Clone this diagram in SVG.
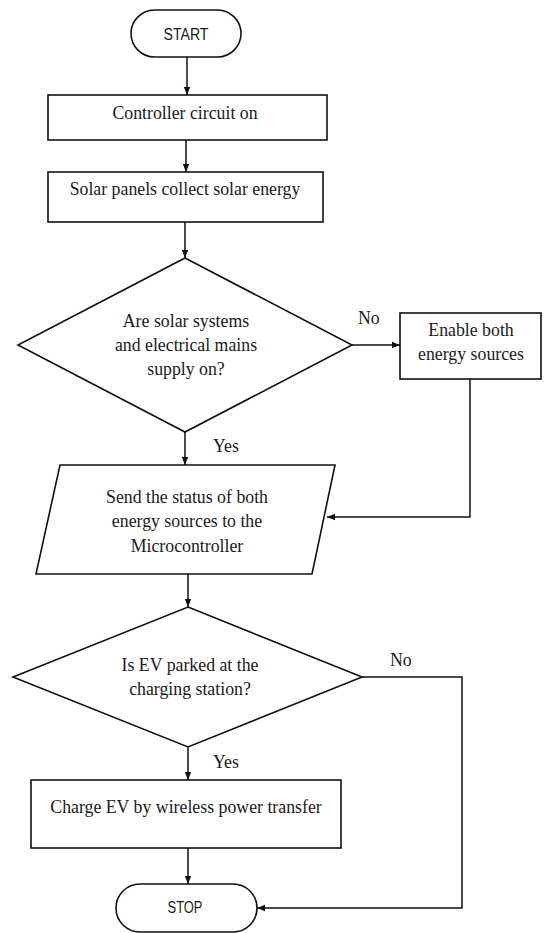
<svg xmlns="http://www.w3.org/2000/svg" width="546" height="933" viewBox="0 0 546 933">
<defs>
<marker id="ah" viewBox="0 0 8 8" refX="8" refY="4" markerWidth="8" markerHeight="8" markerUnits="userSpaceOnUse" orient="auto">
<path d="M0,0.8 L8,4 L0,7.2 Z" fill="#111"/>
</marker>
<style>
.s{fill:#fff;stroke:#111;stroke-width:1.6}
.c{fill:none;stroke:#111;stroke-width:1.5}
.a{marker-end:url(#ah)}
.t{font-family:"Liberation Serif","Times New Roman",serif;font-size:17.8px;fill:#1a1a1a;text-anchor:middle}
.l{font-family:"Liberation Serif","Times New Roman",serif;font-size:17.8px;fill:#1a1a1a}
.k{font-family:"Liberation Sans",Arial,sans-serif;font-size:16px;fill:#1a1a1a;text-anchor:middle}
</style>
</defs>
<rect width="546" height="933" fill="#fff"/>
<g id="connectors">
<path class="c a" d="M187,57 V95"/>
<path class="c a" d="M186,140 V172"/>
<path class="c a" d="M185,222 V258"/>
<path class="c a" d="M352,345 H400"/>
<path class="c a" d="M185,432 V465"/>
<path class="c a" d="M470,379 V517 H327"/>
<path class="c a" d="M188,574 V607"/>
<path class="c a" d="M188,747 V780"/>
<path class="c a" d="M362,677 H462 V908 H257"/>
<path class="c a" d="M188,848 V884"/>
<text class="l" x="358" y="324">No</text>
<text class="l" x="213" y="452">Yes</text>
<text class="l" x="390" y="666">No</text>
<text class="l" x="213" y="768">Yes</text>
</g>
<g id="start">
<rect class="s" x="131" y="10" width="110" height="47" rx="23.5"/>
<text class="k" x="186" y="40" textLength="45" lengthAdjust="spacingAndGlyphs">START</text>
</g>
<g id="controller">
<rect class="s" x="48" y="95" width="279" height="45"/>
<text class="t" x="185" y="119">Controller circuit on</text>
</g>
<g id="solar">
<rect class="s" x="48" y="172" width="275" height="50"/>
<text class="t" x="185" y="195">Solar panels collect solar energy</text>
</g>
<g id="decision1">
<polygon class="s" points="185,258 352,345 185,432 18,345"/>
<text class="t" x="186" y="327">Are solar systems</text>
<text class="t" x="186" y="351">and electrical mains</text>
<text class="t" x="186" y="375">supply on?</text>
</g>
<g id="enable">
<rect class="s" x="400" y="313" width="141" height="66"/>
<text class="t" x="471" y="336">Enable both</text>
<text class="t" x="471" y="360">energy sources</text>
</g>
<g id="send">
<polygon class="s" points="60,465 335,465 312,574 36,574"/>
<text class="t" x="187" y="503">Send the status of both</text>
<text class="t" x="187" y="527">energy sources to the</text>
<text class="t" x="187" y="552">Microcontroller</text>
</g>
<g id="decision2">
<polygon class="s" points="188,607 362,677 188,747 13,677"/>
<text class="t" x="190" y="671">Is EV parked at the</text>
<text class="t" x="190" y="695">charging station?</text>
</g>
<g id="charge">
<rect class="s" x="31" y="780" width="310" height="68"/>
<text class="t" x="186" y="813">Charge EV by wireless power transfer</text>
</g>
<g id="stop">
<rect class="s" x="116" y="884" width="141" height="48" rx="24"/>
<text class="k" x="185" y="913" textLength="35" lengthAdjust="spacingAndGlyphs">STOP</text>
</g>
</svg>
